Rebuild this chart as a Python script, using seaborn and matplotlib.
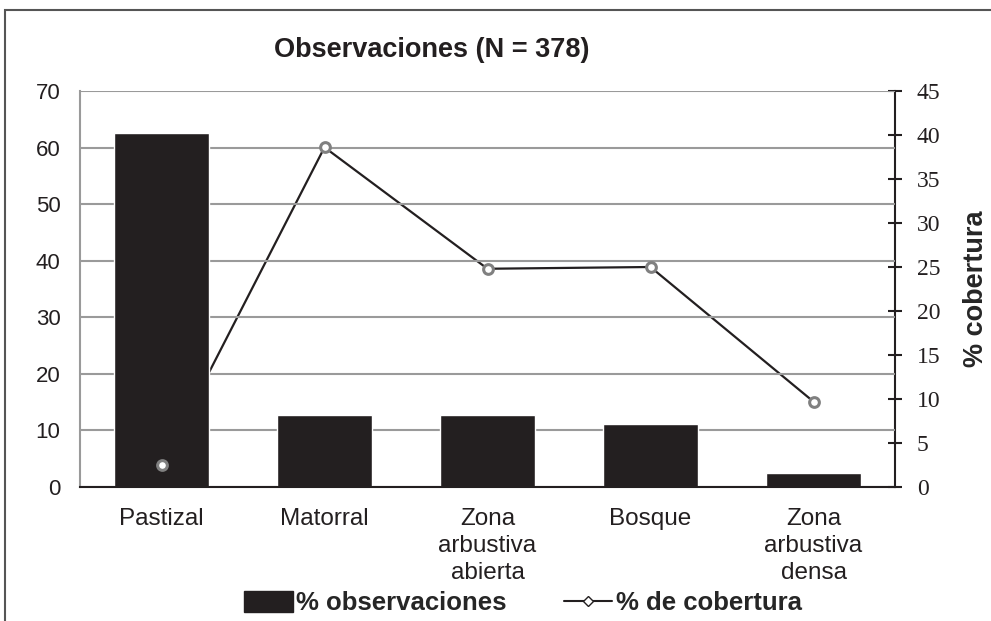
import pandas as pd
import matplotlib.pyplot as plt
import seaborn as sns
from matplotlib.patches import Patch, Rectangle
from matplotlib.lines import Line2D

# data
categorias = ["Pastizal", "Matorral", "Zona\narbustiva\nabierta", "Bosque", "Zona\narbustiva\ndensa"]
observaciones = [62.5, 12.7, 12.7, 11.1, 2.4]
cobertura = [2.5, 38.6, 24.8, 25.0, 9.7]
ticks_izq = [0, 10, 20, 30, 40, 50, 60, 70]
ticks_der = [0, 5, 10, 15, 20, 25, 30, 35, 40, 45]

df = pd.DataFrame({"cat": categorias, "obs": observaciones, "cob": cobertura})

sns.set_style("white")
plt.rcParams["font.family"] = ["Liberation Sans", "DejaVu Sans"]

fig = plt.figure(figsize=(9.91, 6.21), dpi=100)
pos = [80 / 991, 1 - 487 / 621, (895 - 80) / 991, (487 - 91) / 621]
ax2 = fig.add_axes(pos)           # line (behind the bars)
ax = fig.add_axes(pos, sharex=ax2)  # bars
ax3 = fig.add_axes(pos, sharex=ax2)  # markers on top
ax2.set_zorder(0)
ax.set_zorder(1)
ax3.set_zorder(2)
ax.patch.set_visible(False)
ax3.patch.set_visible(False)

# bars
sns.barplot(data=df, x="cat", y="obs", color="#231f20", saturation=1,
            width=0.58, ax=ax)
ax.set_ylim(0, 70)
ax.set_yticks(ticks_izq)
ax.yaxis.grid(True, color="#9a9a9a", linewidth=1.5)
ax.set_xlabel("")
ax.set_ylabel("")
ax.tick_params(axis="y", length=0, labelsize=16, pad=14, colors="#231f20")
ax.tick_params(axis="x", length=0, labelsize=17.5, pad=15, colors="#231f20")
for t in ax.get_xticklabels():
    t.set_linespacing(1.3)
for s in ["top", "right"]:
    ax.spines[s].set_visible(False)
ax.spines["left"].set_color("#9a9a9a")
ax.spines["left"].set_linewidth(1.5)
ax.spines["bottom"].set_color("#231f20")
ax.spines["bottom"].set_linewidth(1.5)

# coverage line
sns.pointplot(data=df, x="cat", y="cob", color="#231f20", errorbar=None,
              markersize=0, linewidth=1.6, ax=ax2)
ax2.set_ylim(0, 45)
ax2.set_yticks(ticks_der)
ax2.yaxis.tick_right()
ax2.yaxis.set_label_position("right")
ax2.set_ylabel("% cobertura", fontsize=19.5, fontweight="bold", labelpad=16)
ax2.set_xlabel("")
ax2.tick_params(axis="x", length=0, labelbottom=False)
ax2.tick_params(axis="y", direction="inout", length=9.5, width=1.5,
                labelsize=17, pad=11, colors="#231f20")
for t in ax2.get_yticklabels():
    t.set_fontfamily("Liberation Serif")
for s in ["top", "left", "bottom"]:
    ax2.spines[s].set_visible(False)
ax2.spines["right"].set_color("#231f20")
ax2.spines["right"].set_linewidth(1.5)

# markers
sns.pointplot(data=df, x="cat", y="cob", color="#231f20", errorbar=None,
              linestyles="none", markers="o", markersize=7,
              markerfacecolor="white", markeredgecolor="#808080",
              markeredgewidth=2.2, ax=ax3)
ax3.set_ylim(0, 45)
ax3.axis("off")

ax2.set_xlim(-0.5, 4.5)

fig.text(432 / 991, 1 - 50 / 621, "Observaciones (N = 378)", ha="center",
         va="center", fontsize=19.5, fontweight="bold", color="#231f20")

handles = [
    Patch(facecolor="#231f20", edgecolor="#231f20", label="% observaciones"),
    Line2D([], [], color="#231f20", marker="D", markersize=5,
           markerfacecolor="white", markeredgecolor="#231f20",
           label="% de cobertura"),
]
fig.legend(handles=handles, loc="center", bbox_to_anchor=(523 / 991, 1 - 603 / 621),
           ncol=2, frameon=False, prop={"size": 18.5, "weight": "bold"},
           handlelength=1.9, handleheight=0.9, handletextpad=0.15,
           columnspacing=2.2, borderpad=0)

# outer frame
fig.add_artist(Rectangle((5 / 991, -0.1), 1.1, 1.1 - 10 / 621,
                         transform=fig.transFigure, fill=False,
                         edgecolor="#555555", linewidth=1.5, clip_on=False))

fig.savefig("out.png", dpi=100)
